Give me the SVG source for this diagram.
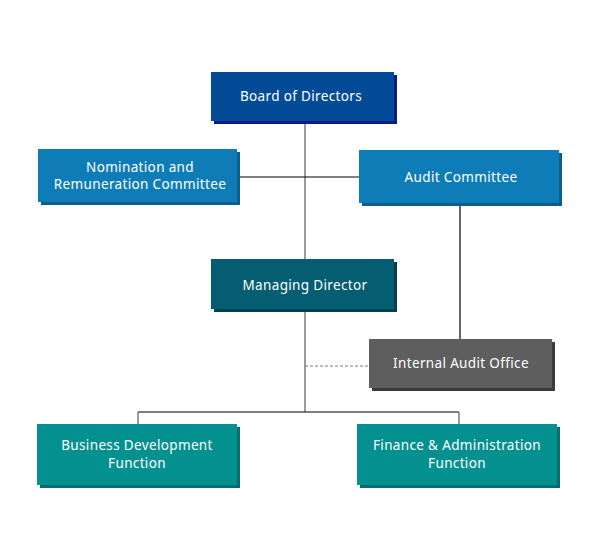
<svg xmlns="http://www.w3.org/2000/svg" width="600" height="550" viewBox="0 0 600 550">
<style>
text{font-family:"Noto Sans","Open Sans",sans-serif;font-size:13.5px;letter-spacing:0.35px;fill:#ffffff;text-anchor:middle}
.g{stroke:#7a7a7a;stroke-width:1.5;fill:none}
.k{stroke:#000000;stroke-width:1.2;fill:none}
</style>
<rect width="600" height="550" fill="#ffffff"/>
<g id="connectors">
<line class="g" x1="305" y1="121" x2="305" y2="259"/>
<line class="k" x1="237" y1="177" x2="359" y2="177"/>
<line class="k" x1="460" y1="203" x2="460" y2="339"/>
<line class="g" x1="305" y1="309" x2="305" y2="412"/>
<line x1="305" y1="366" x2="369" y2="366" stroke="#7a7a7a" stroke-width="1" stroke-dasharray="3,2"/>
<line class="k" x1="138" y1="412" x2="459" y2="412"/>
<line class="g" x1="138" y1="412" x2="138" y2="424"/>
<line class="g" x1="459" y1="412" x2="459" y2="424"/>
</g>
<g id="board">
<rect x="214" y="75" width="183" height="49" fill="#0d1a8c"/>
<rect x="211" y="72" width="183" height="49" fill="#034b96"/>
<text x="301" y="101">Board of Directors</text>
</g>
<g id="nomination">
<rect x="41" y="152" width="199" height="53" fill="#0b5f8f"/>
<rect x="38" y="149" width="199" height="53" fill="#0e7db7"/>
<text x="140" y="172">Nomination and</text>
<text x="140" y="189">Remuneration Committee</text>
</g>
<g id="audit-committee">
<rect x="362" y="153" width="200" height="53" fill="#0b5f8f"/>
<rect x="359" y="150" width="200" height="53" fill="#0e7db7"/>
<text x="461" y="182">Audit Committee</text>
</g>
<g id="managing-director">
<rect x="214" y="262" width="183" height="50" fill="#03404d"/>
<rect x="211" y="259" width="183" height="50" fill="#045d70"/>
<text x="305" y="290">Managing Director</text>
</g>
<g id="internal-audit">
<rect x="372" y="342" width="183" height="49" fill="#3b3b3b"/>
<rect x="369" y="339" width="183" height="49" fill="#5e5e5e"/>
<text x="461" y="368">Internal Audit Office</text>
</g>
<g id="business-development">
<rect x="40" y="427" width="200" height="61" fill="#036f6e"/>
<rect x="37" y="424" width="200" height="61" fill="#04908f"/>
<text x="137" y="450">Business Development</text>
<text x="137" y="468">Function</text>
</g>
<g id="finance-administration">
<rect x="360" y="427" width="200" height="61" fill="#036f6e"/>
<rect x="357" y="424" width="200" height="61" fill="#04908f"/>
<text x="457" y="450">Finance &amp; Administration</text>
<text x="457" y="468">Function</text>
</g>
</svg>
